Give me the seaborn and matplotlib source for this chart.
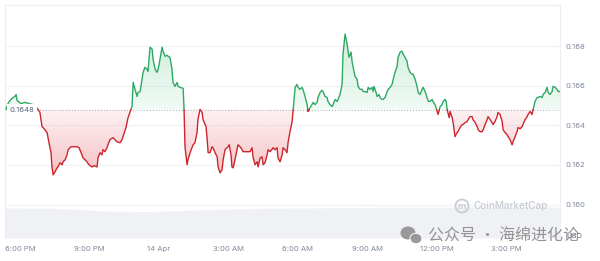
import numpy as np
import pandas as pd
import matplotlib
matplotlib.use("Agg")
import matplotlib.pyplot as plt
import matplotlib.dates as mdates
import matplotlib.colors as mcolors
import matplotlib.transforms as mtransforms
from matplotlib.path import Path
from matplotlib.patches import Ellipse
import seaborn as sns

# ---------------- data ----------------
START_DAY = "2025-04-13"
# hours since 00:00 of START_DAY
hours = [
    17.39, 17.48, 17.57, 17.70, 17.78, 17.83, 17.87, 18.04, 18.22, 18.39, 18.56, 18.69, 18.78,
    18.86, 18.95, 19.04, 19.17, 19.25, 19.34, 19.38, 19.43, 19.51, 19.60, 19.64, 19.73, 19.82,
    19.86, 19.95, 20.03, 20.08, 20.20, 20.29, 20.46, 20.55, 20.64, 20.72, 20.81, 20.89, 20.98,
    21.11, 21.20, 21.33, 21.37, 21.46, 21.54, 21.59, 21.67, 21.76, 21.80, 21.89, 22.02, 22.19,
    22.32, 22.41, 22.45, 22.58, 22.67, 22.76, 22.84,
    22.89, 22.97, 23.06, 23.10, 23.19, 23.32, 23.40, 23.49, 23.53, 23.62, 23.71, 23.75, 23.84,
    23.92, 23.97, 24.05, 24.14, 24.18, 24.27, 24.36, 24.40, 24.48, 24.57, 24.61, 24.70, 24.79,
    24.83, 24.92, 25.05, 25.09,
    25.13, 25.22, 25.26, 25.35, 25.43, 25.48, 25.56, 25.65, 25.69, 25.78, 25.87, 25.91, 26.04,
    26.09, 26.13, 26.21, 26.30, 26.34, 26.43, 26.52, 26.56, 26.65, 26.73, 26.78, 26.86, 26.95,
    26.99, 27.04, 27.12, 27.16, 27.21, 27.29, 27.38, 27.42, 27.51, 27.60, 27.64, 27.81, 27.94,
    28.03, 28.07, 28.16, 28.25, 28.29, 28.38, 28.46, 28.51, 28.59, 28.68, 28.72, 28.81, 28.94,
    29.02, 29.11, 29.15, 29.24, 29.33, 29.37, 29.46, 29.54, 29.59, 29.67, 29.76, 29.80,
    29.89, 29.97, 30.02, 30.10, 30.19, 30.23, 30.32, 30.41, 30.45, 30.54, 30.62, 30.67, 30.75,
    30.84, 30.88, 30.97, 31.05, 31.10, 31.18, 31.27, 31.31, 31.40, 31.49, 31.53, 31.62, 31.70,
    31.75, 31.83, 31.92, 31.96, 32.05, 32.14, 32.18, 32.22, 32.31, 32.35, 32.40, 32.48, 32.57,
    32.61, 32.70, 32.78, 32.83, 32.91, 33.00, 33.05, 33.13, 33.22, 33.26, 33.30, 33.39, 33.43,
    33.52, 33.56, 33.65, 33.69, 33.78, 33.87, 33.91, 34.00, 34.08, 34.13, 34.21, 34.30, 34.34,
    34.43, 34.51, 34.56, 34.64, 34.73, 34.77, 34.86, 34.95, 34.99, 35.08, 35.16, 35.21, 35.29,
    35.38, 35.42, 35.51, 35.59, 35.65, 35.72, 35.81, 35.85, 35.94, 36.03, 36.07, 36.16, 36.24,
    36.29, 36.37, 36.42, 36.46, 36.55, 36.59, 36.68, 36.72, 36.80, 36.89, 36.93, 37.02, 37.11,
    37.15, 37.24, 37.32, 37.37, 37.45, 37.54, 37.58, 37.67, 37.76, 37.80, 37.89, 37.97, 38.02,
    38.10, 38.19, 38.23, 38.32, 38.40, 38.45, 38.53, 38.62, 38.66, 38.75, 38.84, 38.88, 38.97,
    39.05, 39.10, 39.18, 39.27, 39.31, 39.40, 39.48, 39.53, 39.62, 39.70, 39.74, 39.83, 39.92,
    39.96, 40.05, 40.13, 40.18, 40.26, 40.35, 40.39, 40.48, 40.57, 40.61, 40.70, 40.78, 40.83,
    40.91, 41.00, 41.04, 41.13, 41.21, 41.26, 41.34,
]
prices = [
    0.16480, 0.16510, 0.16526, 0.16541, 0.16546, 0.16556, 0.16526, 0.16510, 0.16516, 0.16510, 0.16505, 0.16495, 0.16480,
    0.16465, 0.16394, 0.16383, 0.16363, 0.16312, 0.16262, 0.16190, 0.16150, 0.16165, 0.16185, 0.16190, 0.16211, 0.16201,
    0.16216, 0.16226, 0.16251, 0.16277, 0.16292, 0.16292, 0.16292, 0.16287, 0.16262, 0.16236, 0.16226, 0.16216, 0.16201,
    0.16190, 0.16196, 0.16190, 0.16236, 0.16262, 0.16251, 0.16277, 0.16267, 0.16287, 0.16302, 0.16328, 0.16338, 0.16317,
    0.16312, 0.16328, 0.16343, 0.16389, 0.16439, 0.16470, 0.16495,
    0.16617, 0.16582, 0.16546, 0.16566, 0.16571, 0.16668, 0.16693, 0.16683, 0.16673, 0.16795, 0.16785, 0.16734, 0.16683,
    0.16668, 0.16683, 0.16734, 0.16795, 0.16775, 0.16749, 0.16754, 0.16749, 0.16744, 0.16683, 0.16617, 0.16597, 0.16617,
    0.16597, 0.16592, 0.16587, 0.16480,
    0.16292, 0.16201, 0.16226, 0.16262, 0.16287, 0.16302, 0.16312, 0.16363, 0.16429, 0.16480, 0.16465, 0.16429, 0.16394,
    0.16328, 0.16262, 0.16262, 0.16292, 0.16287, 0.16262, 0.16241, 0.16190, 0.16160, 0.16175, 0.16226, 0.16277, 0.16287,
    0.16292, 0.16302, 0.16251, 0.16190, 0.16185, 0.16226, 0.16277, 0.16302, 0.16292, 0.16277, 0.16267, 0.16267, 0.16267,
    0.16287, 0.16241, 0.16201, 0.16216, 0.16190, 0.16236, 0.16241, 0.16201, 0.16211, 0.16251, 0.16277, 0.16267, 0.16287,
    0.16277, 0.16287, 0.16236, 0.16216, 0.16251, 0.16287, 0.16277, 0.16262, 0.16317, 0.16368, 0.16419, 0.16470,
    0.16592, 0.16607, 0.16592, 0.16582, 0.16592, 0.16582, 0.16546, 0.16505, 0.16470, 0.16490, 0.16505, 0.16516, 0.16505,
    0.16516, 0.16541, 0.16566, 0.16577, 0.16571, 0.16546, 0.16541, 0.16521, 0.16505, 0.16495, 0.16505, 0.16531, 0.16521,
    0.16531, 0.16556, 0.16607, 0.16759, 0.16861, 0.16810, 0.16775, 0.16744, 0.16770, 0.16724, 0.16693, 0.16648, 0.16632,
    0.16597, 0.16582, 0.16582, 0.16571, 0.16571, 0.16566, 0.16592, 0.16582, 0.16592, 0.16571, 0.16597, 0.16566, 0.16546,
    0.16556, 0.16541, 0.16531, 0.16531, 0.16541, 0.16571, 0.16582, 0.16592, 0.16607, 0.16632, 0.16668, 0.16698, 0.16744,
    0.16770, 0.16775, 0.16759, 0.16744, 0.16724, 0.16693, 0.16668, 0.16658, 0.16658, 0.16632, 0.16597, 0.16566, 0.16556,
    0.16582, 0.16592, 0.16571, 0.16541, 0.16521, 0.16521, 0.16531, 0.16521, 0.16505, 0.16470, 0.16455, 0.16495, 0.16505,
    0.16521, 0.16531, 0.16521, 0.16480, 0.16439, 0.16470, 0.16439, 0.16414, 0.16343, 0.16363, 0.16368, 0.16389, 0.16404,
    0.16404, 0.16414, 0.16419, 0.16429, 0.16444, 0.16444, 0.16429, 0.16414, 0.16394, 0.16378, 0.16368, 0.16368, 0.16378,
    0.16404, 0.16429, 0.16444, 0.16429, 0.16414, 0.16404, 0.16419, 0.16444, 0.16465, 0.16455, 0.16419, 0.16378, 0.16363,
    0.16353, 0.16343, 0.16328, 0.16302, 0.16317, 0.16343, 0.16368, 0.16389, 0.16383, 0.16394, 0.16404, 0.16429, 0.16444,
    0.16455, 0.16470, 0.16455, 0.16480, 0.16521, 0.16541, 0.16541, 0.16546, 0.16541, 0.16556, 0.16566, 0.16592, 0.16566,
    0.16556, 0.16571, 0.16597, 0.16592, 0.16582, 0.16571, 0.16571,
]
vol_hours = [17.35, 19.30, 20.59, 21.89, 23.62, 25.78, 27.94, 30.10, 34.43, 37.89, 41.34]
vol_musd = [300, 298, 285, 268, 264, 282, 296, 300, 308, 310, 310]

tick_times = ["2025-04-13 18:00", "2025-04-13 21:00", "2025-04-14 00:00", "2025-04-14 03:00",
              "2025-04-14 06:00", "2025-04-14 09:00", "2025-04-14 12:00", "2025-04-14 15:00"]
tick_labels = ["6:00 PM", "9:00 PM", "14 Apr", "3:00 AM", "6:00 AM", "9:00 AM", "12:00 PM", "3:00 PM"]
y_ticks = [0.160, 0.162, 0.164, 0.166, 0.168]
y_tick_labels = ["0.160", "0.162", "0.164", "0.166", "0.168"]
ref_label = "0.1648"
currency = "USD"
brand = "CoinMarketCap"
watermark = "公众号 · 海绵进化论"

# ---------------- style ----------------
GREEN = "#2fa865"
RED = "#cc262d"
GRAY_TXT = "#808a9d"

sns.set_theme(style="white")
plt.rcParams["font.family"] = ["Inter", "Noto Sans CJK SC", "DejaVu Sans"]

W, H = 600, 261
fig = plt.figure(figsize=(W / 100, H / 100), dpi=100)
fig.patch.set_facecolor("white")
L, R, T, B = 5, 560, 5, 238
rect = [L / W, 1 - B / H, (R - L) / W, (B - T) / H]
axv = fig.add_axes(rect)
ax = fig.add_axes(rect)
ax.set_facecolor("none")

t0 = pd.Timestamp(START_DAY)
t = mdates.date2num(t0 + pd.to_timedelta(hours, unit="h"))
p = np.array(prices)
base = p[0]
xlim = (mdates.date2num(t0 + pd.Timedelta(hours=17.35)), mdates.date2num(t0 + pd.Timedelta(hours=41.34)))

# volume band
vt = mdates.date2num(t0 + pd.to_timedelta(vol_hours, unit="h"))
axv.fill_between(vt, vol_musd, 0, color="#eff1f5", lw=0)
axv.set_xlim(xlim)
axv.set_ylim(0, 2330)
axv.axis("off")

# split line into up/down runs around the opening price
rows = []
seg = 0
side = lambda v: "up" if v >= base else "down"
cur = side(p[0])
rows.append((t[0], p[0], cur, seg))
for i in range(1, len(p)):
    s = side(p[i])
    if s != cur:
        tc = t[i - 1] + (base - p[i - 1]) / (p[i] - p[i - 1]) * (t[i] - t[i - 1])
        rows.append((tc, base, cur, seg))
        seg += 1
        rows.append((tc, base, s, seg))
        cur = s
    rows.append((t[i], p[i], s, seg))
df = pd.DataFrame(rows, columns=["time", "price", "side", "seg"])


def grad_fill(where, color, y_lo, y_hi, a_lo, a_hi):
    poly = ax.fill_between(t, p, base, where=where, interpolate=True, color="none", linewidth=0)
    paths = poly.get_paths()
    clip = Path.make_compound_path(*paths)
    img = np.zeros((256, 1, 4))
    img[..., :3] = mcolors.to_rgb(color)
    img[:, 0, 3] = np.linspace(a_lo, a_hi, 256)
    im = ax.imshow(img, aspect="auto", origin="lower", extent=[t[0], t[-1], y_lo, y_hi],
                   zorder=1, interpolation="bilinear")
    im.set_clip_path(clip, transform=ax.transData)
    poly.remove()


grad_fill(p >= base, "#3cc070", base, p.max(), 0.07, 0.26)
grad_fill(p <= base, "#e0303a", p.min(), base, 0.30, 0.06)

sns.lineplot(data=df, x="time", y="price", hue="side", units="seg", estimator=None, sort=False,
             palette={"up": GREEN, "down": RED}, legend=False, linewidth=1.0, ax=ax, zorder=3)

ax.axhline(base, color="#b4b9c2", ls=(0, (1, 1.6)), lw=0.8, zorder=2)
blend = mtransforms.blended_transform_factory(ax.transAxes, ax.transData)
ax.text(0.009, base, ref_label, transform=blend, ha="left", va="center", fontsize=5.5,
        color="#58667e", zorder=5,
        bbox=dict(boxstyle="square,pad=0.35", fc="white", ec="none"))

ax.set_xlim(xlim)
ax.set_ylim(0.15831, 0.17008)
ax.yaxis.tick_right()
ax.set_yticks(y_ticks, y_tick_labels)
ax.set_xticks(mdates.date2num(pd.to_datetime(tick_times)), tick_labels)
ax.tick_params(axis="y", length=0, pad=4, labelsize=5.5, labelcolor=GRAY_TXT)
ax.tick_params(axis="x", length=0, pad=5.5, labelsize=5.5, labelcolor=GRAY_TXT)
ax.set_xlabel("")
ax.set_ylabel("")
ax.set_axisbelow(True)
ax.grid(axis="y", color="#eff2f5", lw=0.8)
ax.grid(axis="x", visible=False)
for k in ["top", "left", "right"]:
    ax.spines[k].set_color("#eceef2")
    ax.spines[k].set_linewidth(0.8)
ax.spines["bottom"].set_visible(False)

# texts / watermarks
def fx(x):
    return x / W


def fy(y):
    return 1 - y / H


fig.text(fx(574), fy(236), currency, ha="center", va="center", fontsize=5.5, color="#58667e")
fig.add_artist(Ellipse((fx(462), fy(206)), 13 / W, 13 / H, transform=fig.transFigure,
                       fill=False, ec="#c8ccd3", lw=1.3))
fig.text(fx(462), fy(206.5), "m", ha="center", va="center", fontsize=6.5, color="#c8ccd3",
         fontweight="bold")
fig.text(fx(474), fy(206), brand, ha="left", va="center", fontsize=7.2, color="#c8ccd3",
         fontweight="medium")

fig.add_artist(Ellipse((fx(408), fy(233)), 15 / W, 13 / H, transform=fig.transFigure,
                       fc="#8f8f8f", ec="none", alpha=0.9))
fig.add_artist(Ellipse((fx(416), fy(238.5)), 12 / W, 10.5 / H, transform=fig.transFigure,
                       fc="#8f8f8f", ec="white", lw=0.8, alpha=0.9))
fig.text(fx(428), fy(236.5), watermark, ha="left", va="center", fontsize=11.5, color="#8e8e8e",
         alpha=0.95, family=["Noto Sans CJK SC", "DejaVu Sans"])

fig.savefig("out.png", dpi=100)
